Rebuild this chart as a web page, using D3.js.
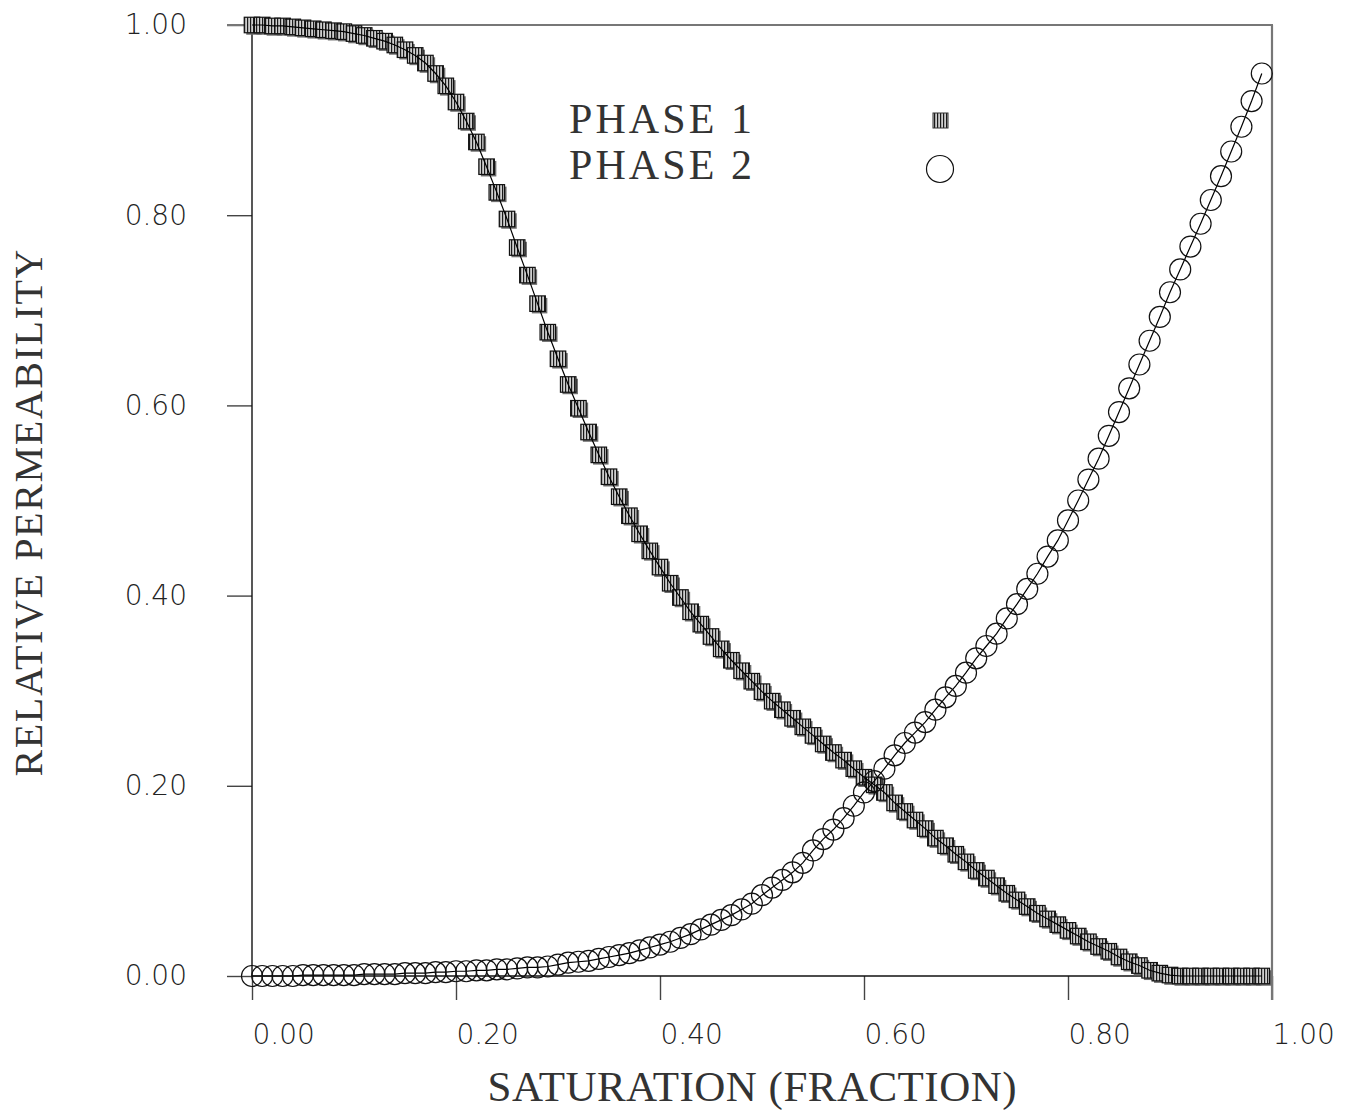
<!DOCTYPE html>
<html>
<head>
<meta charset="utf-8">
<script src="https://cdn.jsdelivr.net/npm/d3@7"></script>
<style>
  html, body { margin: 0; padding: 0; background: #fff; }
  svg { display: block; }
</style>
</head>
<body>
<script>
var width = 1354,
    height = 1117;

// saturation (fraction) at each sample
var saturation = [
  0.00, 0.01, 0.02, 0.03, 0.04, 0.05, 0.06, 0.07, 0.08, 0.09,
  0.10, 0.11, 0.12, 0.13, 0.14, 0.15, 0.16, 0.17, 0.18, 0.19,
  0.20, 0.21, 0.22, 0.23, 0.24, 0.25, 0.26, 0.27, 0.28, 0.29,
  0.30, 0.31, 0.32, 0.33, 0.34, 0.35, 0.36, 0.37, 0.38, 0.39,
  0.40, 0.41, 0.42, 0.43, 0.44, 0.45, 0.46, 0.47, 0.48, 0.49,
  0.50, 0.51, 0.52, 0.53, 0.54, 0.55, 0.56, 0.57, 0.58, 0.59,
  0.60, 0.61, 0.62, 0.63, 0.64, 0.65, 0.66, 0.67, 0.68, 0.69,
  0.70, 0.71, 0.72, 0.73, 0.74, 0.75, 0.76, 0.77, 0.78, 0.79,
  0.80, 0.81, 0.82, 0.83, 0.84, 0.85, 0.86, 0.87, 0.88, 0.89,
  0.90, 0.91, 0.92, 0.93, 0.94, 0.95, 0.96, 0.97, 0.98, 0.99
];

var phase1 = [
  1.000, 1.000, 0.999, 0.999, 0.998, 0.997, 0.996, 0.995, 0.994, 0.993,
  0.991, 0.989, 0.986, 0.983, 0.979, 0.974, 0.968, 0.960, 0.949, 0.936,
  0.919, 0.899, 0.877, 0.851, 0.824, 0.796, 0.766, 0.737, 0.707, 0.677,
  0.649, 0.622, 0.597, 0.572, 0.548, 0.525, 0.504, 0.484, 0.465, 0.447,
  0.430, 0.413, 0.398, 0.383, 0.370, 0.357, 0.344, 0.332, 0.321, 0.310,
  0.299, 0.289, 0.280, 0.271, 0.262, 0.253, 0.244, 0.235, 0.227, 0.218,
  0.209, 0.201, 0.193, 0.182, 0.173, 0.164, 0.155, 0.145, 0.137, 0.128,
  0.120, 0.111, 0.103, 0.095, 0.087, 0.080, 0.073, 0.066, 0.060, 0.054,
  0.048, 0.042, 0.036, 0.031, 0.026, 0.020, 0.015, 0.011, 0.006, 0.003,
  0.001, 0.000, 0.000, 0.000, 0.000, 0.000, 0.000, 0.000, 0.000, 0.000
];

var phase2 = [
  0.000, 0.000, 0.000, 0.000, 0.000, 0.001, 0.001, 0.001, 0.001, 0.001,
  0.001, 0.002, 0.002, 0.002, 0.002, 0.003, 0.003, 0.003, 0.004, 0.004,
  0.005, 0.005, 0.006, 0.006, 0.007, 0.007, 0.008, 0.009, 0.009, 0.010,
  0.012, 0.014, 0.015, 0.016, 0.018, 0.020, 0.022, 0.024, 0.027, 0.030,
  0.033, 0.036, 0.040, 0.044, 0.049, 0.054, 0.059, 0.064, 0.070, 0.076,
  0.085, 0.093, 0.101, 0.109, 0.119, 0.132, 0.144, 0.154, 0.166, 0.179,
  0.193, 0.205, 0.218, 0.232, 0.245, 0.256, 0.267, 0.280, 0.293, 0.305,
  0.319, 0.334, 0.347, 0.360, 0.376, 0.391, 0.407, 0.423, 0.441, 0.458,
  0.479, 0.500, 0.522, 0.544, 0.568, 0.593, 0.618, 0.643, 0.668, 0.693,
  0.719, 0.743, 0.767, 0.791, 0.816, 0.841, 0.867, 0.893, 0.920, 0.949
];

var xTicks = [0, 0.2, 0.4, 0.6, 0.8, 1.0],
    xTickLabels = ["0.00", "0.20", "0.40", "0.60", "0.80", "1.00"],
    yTicks = [0, 0.2, 0.4, 0.6, 0.8, 1.0],
    yTickLabels = ["0.00", "0.20", "0.40", "0.60", "0.80", "1.00"],
    seriesNames = ["PHASE 1", "PHASE 2"];

var x = d3.scaleLinear().domain([0, 1]).range([252, 1272]),
    y = d3.scaleLinear().domain([0, 1]).range([976, 25]);

var svg = d3.select("body").append("svg")
    .attr("width", width)
    .attr("height", height);

// vertical hatch used inside the phase 1 squares
var pat = svg.append("defs").append("pattern")
    .attr("id", "hatch")
    .attr("patternUnits", "userSpaceOnUse")
    .attr("width", 3)
    .attr("height", 3);
pat.append("rect").attr("width", 3).attr("height", 3).attr("fill", "#cfcfcf");
pat.append("rect").attr("x", 1).attr("width", 1.2).attr("height", 3).attr("fill", "#1a1a1a");

var tickFont = "'DejaVu Sans', sans-serif",
    titleFont = "'Liberation Serif', 'DejaVu Serif', serif";

// axes
var yAxis = svg.append("g")
    .attr("transform", "translate(252,0)")
    .call(d3.axisLeft(y).tickValues(yTicks).tickSize(25).tickPadding(40)
        .tickFormat(function(d, i) { return yTickLabels[i]; }));

var xAxis = svg.append("g")
    .attr("transform", "translate(0,976)")
    .call(d3.axisBottom(x).tickValues(xTicks).tickSize(24).tickPadding(24)
        .tickFormat(function(d, i) { return xTickLabels[i]; }));

[xAxis, yAxis].forEach(function(g) {
    g.select(".domain").remove();
    g.selectAll("line").attr("stroke", "#444").attr("stroke-width", 1.4);
    g.selectAll("text")
        .attr("fill", "#222")
        .style("font-family", tickFont)
        .style("font-size", "28px")
        .style("font-weight", 200);
});
xAxis.selectAll("text").attr("text-anchor", "start");

// frame
svg.append("line").attr("x1", 252).attr("x2", 252).attr("y1", 25).attr("y2", 976)
    .attr("stroke", "#111").attr("stroke-width", 1.4);
svg.append("line").attr("x1", 252).attr("x2", 1272).attr("y1", 976).attr("y2", 976)
    .attr("stroke", "#111").attr("stroke-width", 1.4);
svg.append("line").attr("x1", 227).attr("x2", 1273).attr("y1", 25).attr("y2", 25)
    .attr("stroke", "#777").attr("stroke-width", 2.2);
svg.append("line").attr("x1", 1272).attr("x2", 1272).attr("y1", 25).attr("y2", 1000)
    .attr("stroke", "#777").attr("stroke-width", 2.2);

var pts1 = saturation.map(function(s, i) { return [s, phase1[i]]; }),
    pts2 = saturation.map(function(s, i) { return [s, phase2[i]]; });

var line = d3.line()
    .x(function(d) { return x(d[0]); })
    .y(function(d) { return y(d[1]); });

// phase 1 squares
var sq = 15.5;
var g1 = svg.append("g");
g1.selectAll("rect.shadow")
    .data(pts1).enter().append("rect")
    .attr("class", "shadow")
    .attr("x", function(d) { return x(d[0]) - sq / 2 + 2; })
    .attr("y", function(d) { return y(d[1]) - sq / 2 + 2; })
    .attr("width", sq).attr("height", sq)
    .attr("fill", "#6e6e6e");
g1.selectAll("rect.mark")
    .data(pts1).enter().append("rect")
    .attr("class", "mark")
    .attr("x", function(d) { return x(d[0]) - sq / 2; })
    .attr("y", function(d) { return y(d[1]) - sq / 2; })
    .attr("width", sq).attr("height", sq)
    .attr("fill", "url(#hatch)")
    .attr("stroke", "#111").attr("stroke-width", 1.2);

svg.append("path").datum(pts1)
    .attr("d", line)
    .attr("fill", "none").attr("stroke", "#000").attr("stroke-width", 1.2);

// phase 2 circles
svg.append("path").datum(pts2)
    .attr("d", line)
    .attr("fill", "none").attr("stroke", "#000").attr("stroke-width", 1.2);
svg.append("g").selectAll("circle")
    .data(pts2).enter().append("circle")
    .attr("cx", function(d) { return x(d[0]); })
    .attr("cy", function(d) { return y(d[1]); })
    .attr("r", 10.5)
    .attr("fill", "none")
    .attr("stroke", "#111").attr("stroke-width", 1.2);

// legend
var legend = svg.append("g");
legend.selectAll("text")
    .data(seriesNames).enter().append("text")
    .attr("x", 569)
    .attr("y", function(d, i) { return 133 + i * 46; })
    .attr("textLength", 183)
    .attr("lengthAdjust", "spacing")
    .attr("fill", "#333")
    .style("font-family", titleFont)
    .style("font-size", "42px")
    .text(function(d) { return d; });
legend.append("rect")
    .attr("x", 933).attr("y", 113).attr("width", 15).attr("height", 15)
    .attr("fill", "url(#hatch)").attr("stroke", "#333").attr("stroke-width", 1);
legend.append("circle")
    .attr("cx", 940).attr("cy", 169).attr("r", 13.5)
    .attr("fill", "none").attr("stroke", "#111").attr("stroke-width", 1.2);

// axis titles
svg.append("text")
    .attr("x", 752).attr("y", 1101)
    .attr("text-anchor", "middle")
    .attr("textLength", 529)
    .attr("lengthAdjust", "spacing")
    .attr("fill", "#333")
    .style("font-family", titleFont)
    .style("font-size", "43px")
    .text("SATURATION (FRACTION)");

svg.append("text")
    .attr("transform", "translate(42,513) rotate(-90)")
    .attr("text-anchor", "middle")
    .attr("textLength", 527)
    .attr("lengthAdjust", "spacing")
    .attr("fill", "#333")
    .style("font-family", titleFont)
    .style("font-size", "40px")
    .text("RELATIVE PERMEABILITY");
</script>
</body>
</html>
